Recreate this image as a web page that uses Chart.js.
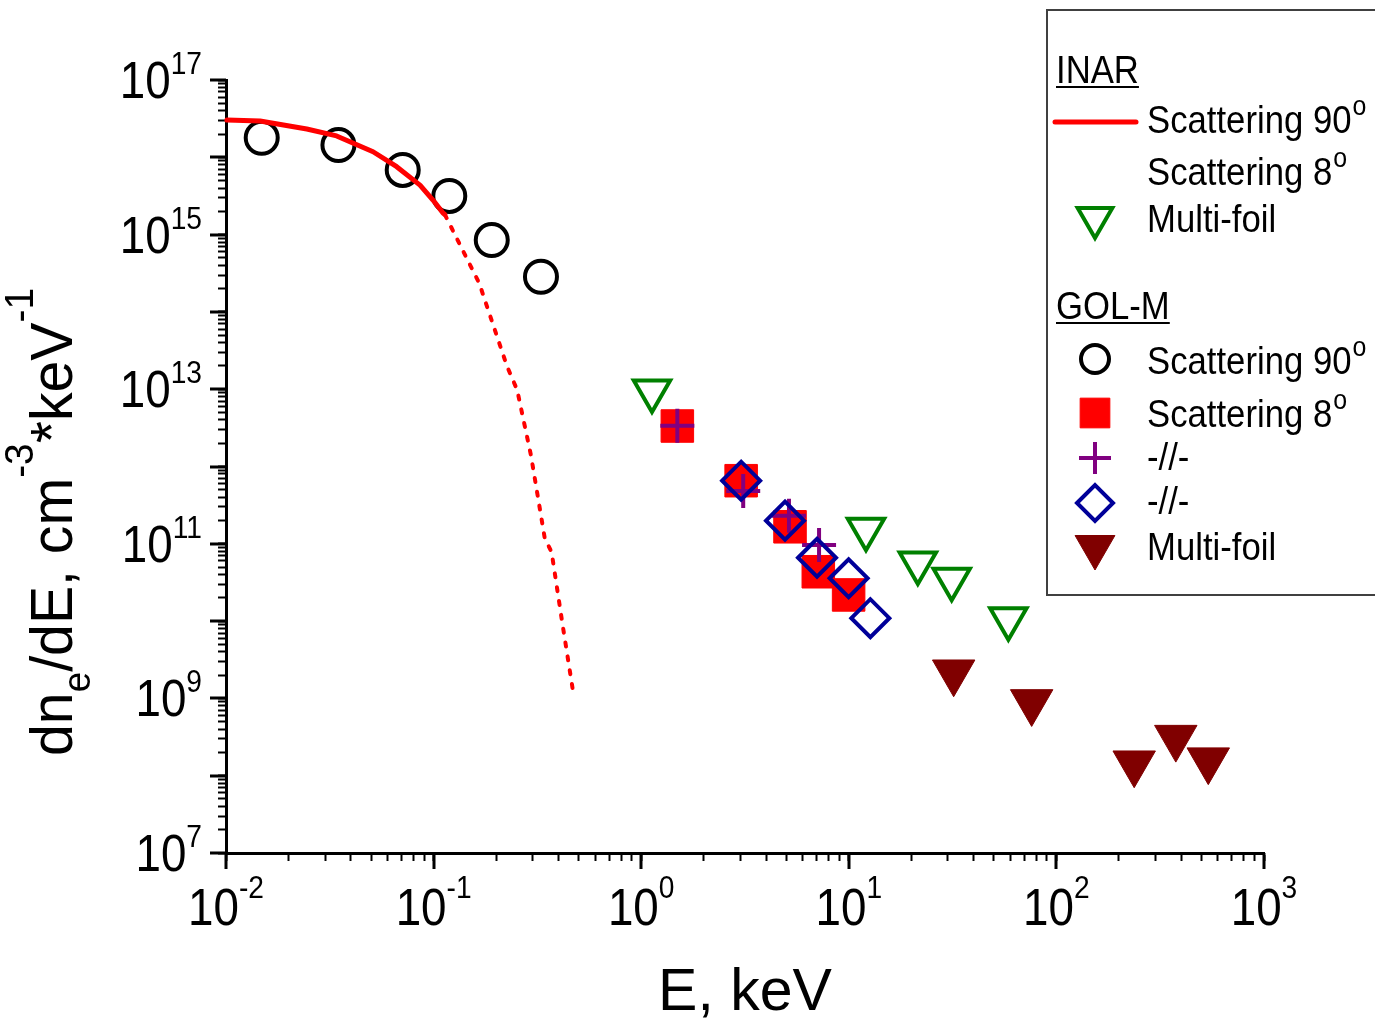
<!DOCTYPE html>
<html>
<head>
<meta charset="utf-8">
<script src="https://cdn.jsdelivr.net/npm/chart.js@4.4.1/dist/chart.umd.min.js"></script>
<style>
  html, body { margin: 0; padding: 0; background: #fff; }
  #wrap { width: 1375px; height: 1019px; position: relative; }
</style>
</head>
<body>
<div id="wrap"><canvas id="chart"></canvas></div>
<script>
// INAR: Thomson scattering fit (solid part and dotted tail)
const inarSolidE = [0.0101, 0.01459, 0.0245, 0.0341, 0.0511, 0.0664, 0.086, 0.0993, 0.111, 0.1133];
const inarSolidN = [3.04e16, 2.95e16, 2.32e16, 1.89e16, 1.18e16, 7.55e15, 4.37e15, 2.8e15, 1.9e15, 1.82e15];
const inarDottedE = [0.1133, 0.166, 0.2254, 0.2527, 0.2945, 0.3429, 0.3702, 0.4153, 0.4745];
const inarDottedN = [1.82e15, 2.34e14, 2.0e13, 9.77e12, 1.39e12, 1.19e11, 7.8e10, 1.01e10, 1.03e9];
const inarFoilE = [1.127, 12.1, 21.5, 31.3, 58.7];
const inarFoilN = [9.5e12, 1.54e11, 5.66e10, 3.47e10, 1.07e10];

// GOL-M
const golScat90E = [0.01486, 0.0348, 0.0710, 0.119, 0.1906, 0.329];
const golScat90N = [1.79e16, 1.44e16, 6.86e15, 3.16e15, 8.5e14, 2.85e14];
const golScat8E = [1.493, 3.03, 5.21, 7.13, 9.98];
const golScat8N = [3.34e12, 6.55e11, 1.66e11, 4.35e10, 2.18e10];
const golPlusE = [1.493, 3.10, 5.15, 7.19];
const golPlusN = [3.37e12, 4.82e11, 2.31e11, 9.64e10];
const golDiamondE = [3.03, 4.93, 7.03, 9.98, 12.7];
const golDiamondN = [6.55e11, 1.99e11, 6.6e10, 3.58e10, 1.09e10];
const golFoilE = [32.0, 76, 237, 376, 539];
const golFoilN = [2.18e9, 9.0e8, 1.45e8, 3.11e8, 1.59e8];

// tick labels (powers of ten)
const xTickExps = [-2, -1, 0, 1, 2, 3];
const yTickExps = [7, 9, 11, 13, 15, 17];

const FONT = "'Liberation Sans', Arial, sans-serif";
const RED = '#ff0000';
const GREEN = '#008000';
const PURPLE = '#800080';
const BLUE = '#000099';
const DARKRED = '#800000';

function pairs(xs, ys) {
  return xs.map((x, i) => ({ x, y: ys[i] }));
}

// 1..9 x 10^e for every decade, like the original axis
function decadeTicks(lo, hi) {
  const t = [];
  for (let e = lo; e < hi; e++) {
    for (let m = 1; m <= 9; m++) t.push({ value: m * Math.pow(10, e), major: m === 1 });
  }
  t.push({ value: Math.pow(10, hi), major: true });
  return t;
}

// draw text squeezed horizontally, returns drawn width
function fillSqueezed(ctx, text, x, y, font, align, sx) {
  ctx.save();
  ctx.font = font;
  ctx.textAlign = align;
  ctx.textBaseline = 'alphabetic';
  ctx.translate(x, y);
  ctx.scale(sx, 1);
  ctx.fillText(text, 0, 0);
  const w = ctx.measureText(text).width * sx;
  ctx.restore();
  return w;
}

function widthOf(ctx, text, font, sx) {
  ctx.save();
  ctx.font = font;
  const w = ctx.measureText(text).width * sx;
  ctx.restore();
  return w;
}

function drawMarker(ctx, style, x, y, r, color, filled, lw) {
  ctx.save();
  ctx.beginPath();
  if (style === 'circle') {
    ctx.arc(x, y, r, 0, Math.PI * 2);
  } else if (style === 'rect') {
    const s = r * Math.SQRT1_2;
    ctx.rect(x - s, y - s, 2 * s, 2 * s);
  } else if (style === 'rectRot') {
    ctx.moveTo(x - r, y); ctx.lineTo(x, y - r); ctx.lineTo(x + r, y); ctx.lineTo(x, y + r);
    ctx.closePath();
  } else if (style === 'cross') {
    ctx.moveTo(x - r, y); ctx.lineTo(x + r, y); ctx.moveTo(x, y - r); ctx.lineTo(x, y + r);
  } else if (style === 'triDown') {
    const h = r * Math.sqrt(3) / 2;
    ctx.moveTo(x - h, y - r / 2); ctx.lineTo(x + h, y - r / 2); ctx.lineTo(x, y + r);
    ctx.closePath();
  }
  if (filled) { ctx.fillStyle = color; ctx.fill(); }
  ctx.strokeStyle = color;
  ctx.lineWidth = lw;
  ctx.stroke();
  ctx.restore();
}

const decorations = {
  id: 'decorations',
  afterDraw(chart) {
    const { ctx, scales: { x, y } } = chart;

    // long ticks at every decade
    ctx.save();
    ctx.strokeStyle = '#000';
    ctx.lineWidth = 3;
    ctx.beginPath();
    for (let e = -2; e <= 3; e++) {
      const px = Math.round(x.getPixelForValue(Math.pow(10, e)));
      ctx.moveTo(px, x.top); ctx.lineTo(px, x.top + 16);
    }
    for (let e = 7; e <= 17; e++) {
      const py = Math.round(y.getPixelForValue(Math.pow(10, e)));
      ctx.moveTo(y.right, py); ctx.lineTo(y.right - 16, py);
    }
    ctx.stroke();
    ctx.restore();

    ctx.fillStyle = '#000';
    const bigFont = '52px ' + FONT;
    const expFont = '32px ' + FONT;
    const sx = 0.88;

    // y tick labels
    yTickExps.forEach(e => {
      const py = y.getPixelForValue(Math.pow(10, e));
      const ew = fillSqueezed(ctx, String(e), 202, py - 6, expFont, 'right', sx);
      fillSqueezed(ctx, '10', 202 - ew, py + 18, bigFont, 'right', sx);
    });

    // x tick labels
    xTickExps.forEach(e => {
      const px = x.getPixelForValue(Math.pow(10, e));
      const base = x.top + 72;
      const w10 = widthOf(ctx, '10', bigFont, sx);
      const we = widthOf(ctx, String(e), expFont, sx);
      const left = px - (w10 + we) / 2;
      fillSqueezed(ctx, '10', left, base, bigFont, 'left', sx);
      fillSqueezed(ctx, String(e), left + w10, base - 27, expFont, 'left', sx);
    });

    // x title
    fillSqueezed(ctx, 'E, keV', (x.left + x.right) / 2, 1010, '59px ' + FONT, 'center', 1);

    // y title, rotated, with sub/superscripts
    ctx.save();
    ctx.translate(72, 756);
    ctx.rotate(-Math.PI / 2);
    let cx = 0;
    const parts = [['dn', 0, 59], ['e', 18, 38], ['/dE, cm', 0, 59], ['-3', -39, 40], ['*keV', 0, 59], ['-1', -39, 40]];
    parts.forEach(([t, dy, fs]) => {
      cx += fillSqueezed(ctx, t, cx, dy, fs + 'px ' + FONT, 'left', 0.97);
    });
    ctx.restore();

    // legend box
    ctx.save();
    ctx.strokeStyle = '#404040';
    ctx.lineWidth = 2;
    ctx.strokeRect(1047, 10, 400, 585);
    ctx.restore();

    const lf = '39px ' + FONT;
    const supF = '28px ' + FONT;
    const lsx = 0.89;
    const textX = 1147;
    const symX = 1095;
    const item = (label, base, sup) => {
      const w = fillSqueezed(ctx, label, textX, base, lf, 'left', lsx);
      if (sup) fillSqueezed(ctx, sup, textX + w + 1, base - 18, supF, 'left', lsx);
    };
    const heading = (label, base) => {
      const w = fillSqueezed(ctx, label, 1056, base, lf, 'left', lsx);
      ctx.fillRect(1056, base + 3, w, 2);
    };

    heading('INAR', 83);
    ctx.save();
    ctx.strokeStyle = RED; ctx.lineWidth = 5; ctx.lineCap = 'round';
    ctx.beginPath(); ctx.moveTo(1055, 122); ctx.lineTo(1136, 122); ctx.stroke();
    ctx.restore();
    item('Scattering 90', 133, 'o');
    item('Scattering 8', 185, 'o');
    drawMarker(ctx, 'triDown', symX, 218, 20, GREEN, false, 4);
    item('Multi-foil', 232);

    heading('GOL-M', 319);
    drawMarker(ctx, 'circle', symX, 359, 14, '#000', false, 4);
    item('Scattering 90', 374, 'o');
    drawMarker(ctx, 'rect', symX, 413, 21, RED, true, 1);
    item('Scattering 8', 427, 'o');
    drawMarker(ctx, 'cross', symX, 458, 16, PURPLE, false, 4);
    item('-//-', 470);
    drawMarker(ctx, 'rectRot', symX, 503, 18, BLUE, false, 4);
    item('-//-', 514);
    drawMarker(ctx, 'triDown', symX, 547, 23, DARKRED, true, 1);
    item('Multi-foil', 560);
  }
};

const pointSet = (label, data, style, r, color, filled, lw, order, rotation) => ({
  label,
  data,
  showLine: false,
  pointStyle: style,
  pointRadius: r,
  pointBorderWidth: lw,
  pointBorderColor: color,
  pointBackgroundColor: filled ? color : 'rgba(0,0,0,0)',
  pointRotation: rotation || 0,
  order,
  clip: false
});

new Chart(document.getElementById('chart'), {
  type: 'scatter',
  data: {
    datasets: [
      {
        label: 'INAR Scattering 90°',
        data: pairs(inarSolidE, inarSolidN),
        showLine: true,
        borderColor: RED,
        borderWidth: 5,
        borderCapStyle: 'round',
        borderJoinStyle: 'round',
        pointRadius: 0,
        tension: 0,
        order: 0,
        clip: false
      },
      {
        label: 'INAR Scattering 8°',
        data: pairs(inarDottedE, inarDottedN),
        showLine: true,
        borderColor: RED,
        borderWidth: 4,
        borderDash: [4, 10],
        borderCapStyle: 'round',
        pointRadius: 0,
        tension: 0,
        order: 0,
        clip: false
      },
      pointSet('INAR Multi-foil', pairs(inarFoilE, inarFoilN), 'triangle', 21, GREEN, false, 4, 5, 180),
      pointSet('GOL-M Scattering 90°', pairs(golScat90E, golScat90N), 'circle', 16, '#000', false, 4, 4),
      pointSet('GOL-M Scattering 8°', pairs(golScat8E, golScat8N), 'rect', 23, RED, true, 1, 3),
      pointSet('GOL-M -//- (cross)', pairs(golPlusE, golPlusN), 'cross', 17, PURPLE, false, 4, 2),
      pointSet('GOL-M -//- (diamond)', pairs(golDiamondE, golDiamondN), 'rectRot', 19, BLUE, false, 4, 1),
      pointSet('GOL-M Multi-foil', pairs(golFoilE, golFoilN), 'triangle', 24.5, DARKRED, true, 1, 5, 180)
    ]
  },
  options: {
    responsive: true,
    maintainAspectRatio: false,
    animation: false,
    events: [],
    layout: {
      autoPadding: false,
      padding: { top: 80, right: 111, bottom: 0, left: 0 }
    },
    plugins: {
      legend: { display: false },
      tooltip: { enabled: false }
    },
    scales: {
      x: {
        type: 'logarithmic',
        position: 'bottom',
        min: 0.01,
        max: 1000,
        border: { display: true, color: '#000', width: 3 },
        grid: { display: true, drawOnChartArea: false, drawTicks: true, tickLength: 8, tickWidth: 2, tickColor: '#000' },
        ticks: { display: false },
        afterBuildTicks: (scale) => { scale.ticks = decadeTicks(-2, 3); },
        afterFit: (scale) => { scale.height = 166; }
      },
      y: {
        type: 'logarithmic',
        position: 'left',
        min: 1e7,
        max: 1e17,
        border: { display: true, color: '#000', width: 3 },
        grid: { display: true, drawOnChartArea: false, drawTicks: true, tickLength: 8, tickWidth: 2, tickColor: '#000' },
        ticks: { display: false },
        afterBuildTicks: (scale) => { scale.ticks = decadeTicks(7, 17); },
        afterFit: (scale) => { scale.width = 226; }
      }
    }
  },
  plugins: [decorations]
});
</script>
</body>
</html>
